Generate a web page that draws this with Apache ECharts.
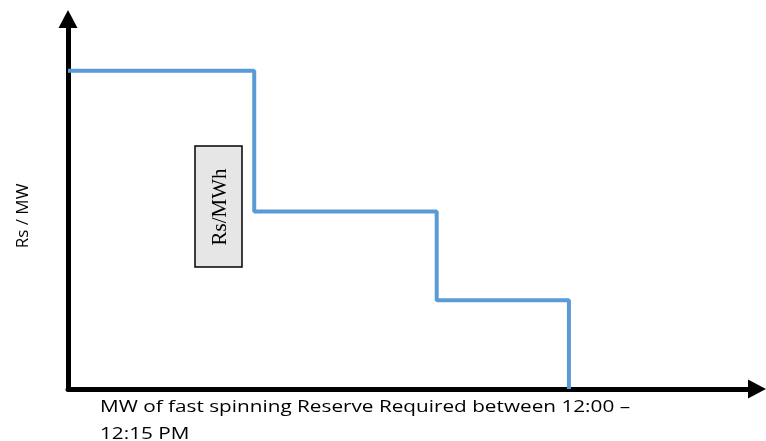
<!DOCTYPE html>
<html>
<head>
<meta charset="utf-8">
<script src="https://cdn.jsdelivr.net/npm/echarts@6/dist/echarts.min.js"></script>
<style>html,body{margin:0;padding:0;background:#fff;}#c{width:766px;height:441px;}</style>
</head>
<body>
<div id="c"></div>
<script>
// Step breakpoints (MW) and prices (Rs/MWh)
var stepMW = [0, 100, 198, 269];
var stepPrice = [86, 48, 24, 0];
var yAxisTitle = 'Rs / MW';
var xAxisTitle = 'MW of fast spinning Reserve Required between 12:00 –\n12:15 PM';
var boxLabel = 'Rs/MWh';

var pts = stepMW.map(function (x, i) { return [x, stepPrice[i]]; });

var chart = echarts.init(document.getElementById('c'), null, {renderer: 'canvas'});
chart.setOption({
  animation: false,
  backgroundColor: '#fff',
  grid: {left: 68, top: 19, right: 9, bottom: 52},
  xAxis: {
    type: 'value', min: 0, max: 370,
    axisLine: {show: true, symbol: ['none', 'triangle'], symbolSize: [19, 18], lineStyle: {color: '#000', width: 5}},
    axisTick: {show: false}, axisLabel: {show: false}, splitLine: {show: false}
  },
  yAxis: {
    type: 'value', min: 0, max: 100,
    axisLine: {show: true, symbol: ['none', 'triangle'], symbolSize: [19, 18], lineStyle: {color: '#000', width: 5}},
    axisTick: {show: false}, axisLabel: {show: false}, splitLine: {show: false}
  },
  series: [{
    type: 'line', step: 'end', data: pts, symbol: 'none',
    lineStyle: {color: '#5B9BD5', width: 4}
  }],
  graphic: [
    {type: 'text', x: 23, y: 216, rotation: Math.PI / 2,
     style: {text: yAxisTitle, font: '17px "Open Sans", sans-serif', fill: '#000', align: 'center', verticalAlign: 'middle'}},
    {type: 'text', x: 100, y: 394, scaleX: 1.22,
     style: {text: xAxisTitle, font: '17px "Open Sans", sans-serif', fill: '#000', align: 'left', verticalAlign: 'top', lineHeight: 27}},
    {type: 'rect', shape: {x: 195, y: 146, width: 47, height: 121},
     style: {fill: '#e6e6e6', stroke: '#000', lineWidth: 1.5}},
    {type: 'text', x: 220, y: 207, rotation: Math.PI / 2,
     style: {text: boxLabel, font: '21px "Liberation Serif", serif', fill: '#000', align: 'center', verticalAlign: 'middle'}}
  ]
});
</script>
</body>
</html>
